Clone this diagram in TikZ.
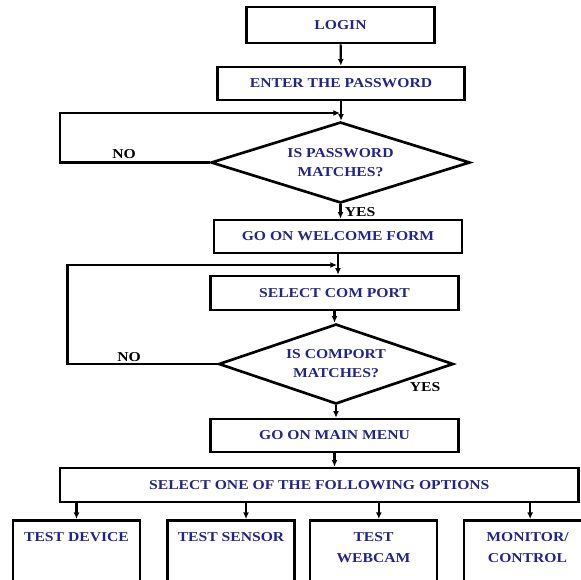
\documentclass[tikz,border=0pt]{standalone}
\usepackage{fontspec}
\setmainfont{Liberation Serif}
\newfontfamily\chartfont[FakeStretch=1.15]{Liberation Serif}
\usetikzlibrary{shapes.geometric,arrows.meta}
\definecolor{chartblue}{RGB}{35,35,140}

\begin{document}
\begin{tikzpicture}[x=0.75pt,y=-0.75pt,
	proc_node/.style={rectangle,draw,line width=2pt,inner sep=0pt,text=chartblue,
		font={\chartfont\bfseries\fontsize{10.2}{14}\selectfont}},
	dec_node/.style={diamond,draw,line width=2pt,inner sep=0pt,aspect=3.2,align=center,text=chartblue,
		font={\chartfont\bfseries\fontsize{10.2}{14.25}\selectfont}},
	opt_node/.style={rectangle,draw,line width=2pt,anchor=north,minimum width=95.25pt,
		inner xsep=0pt,inner ysep=9pt,text depth=70pt,align=center,text=chartblue,
		font={\chartfont\bfseries\fontsize{10.2}{15.75}\selectfont}},
	yn_node/.style={inner sep=0pt,font={\chartfont\bfseries\fontsize{10.2}{12}\selectfont}},
	arr/.style={line width=1.6pt,-{Latex[length=5pt,width=4.5pt]}}]

	\useasboundingbox (0,0) rectangle (581,579);
	\clip (0,0) rectangle (581,579);

	\node[proc_node,minimum width=141pt,minimum height=27pt] (login) at (340.5,25) {LOGIN};
	\node[proc_node,minimum width=185.6pt,minimum height=24.75pt] (enter) at (341,83.5) {ENTER THE PASSWORD};
	\node[dec_node,minimum width=194.25pt,minimum height=60.75pt] (pwd) at (340.5,162.5) {IS PASSWORD\\MATCHES?};
	\node[proc_node,minimum width=186pt,minimum height=24.75pt] (welcome) at (338,236.5) {GO ON WELCOME FORM};
	\node[proc_node,minimum width=186pt,minimum height=25.5pt] (comport) at (334.5,293) {SELECT COM PORT};
	\node[dec_node,minimum width=176pt,minimum height=60pt] (port) at (336,364) {IS COMPORT\\MATCHES?};
	\node[proc_node,minimum width=186pt,minimum height=24.75pt] (menu) at (334.5,435.5) {GO ON MAIN MENU};
	\node[proc_node,minimum width=389pt,minimum height=25.5pt] (options) at (319.3,485) {SELECT ONE OF THE FOLLOWING OPTIONS};

	\node[opt_node] (device) at (76.5,519) {TEST DEVICE};
	\node[opt_node] (sensor) at (231,519) {TEST SENSOR};
	\node[opt_node] (webcam) at (373.5,519) {TEST\\WEBCAM};
	\node[opt_node] (monitor) at (527.5,519) {MONITOR/\\CONTROL};

	\node[yn_node] (no1) at (124,154) {NO};
	\node[yn_node] (yes1) at (360,212) {YES};
	\node[yn_node] (no2) at (129,357) {NO};
	\node[yn_node] (yes2) at (425,387) {YES};

	\coordinate (l1) at (60,113);
	\coordinate (j1) at (340,113);
	\coordinate (l2) at (67.5,265);
	\coordinate (j2) at (337,265);

	\draw[arr] (login) -- (enter);
	\draw[arr] (enter.south) -- (enter.south |- pwd.north);
	\draw[arr] (pwd.south) -- (pwd.south |- welcome.north);
	\draw[arr] (welcome.south) -- (welcome.south |- comport.north);
	\draw[arr] (comport.south) -- (comport.south |- port.north);
	\draw[arr] (port.south) -- (port.south |- menu.north);
	\draw[arr] (menu.south) -- (menu.south |- options.north);

	\draw[arr] (pwd.west) -| (l1) -- (j1);
	\draw[arr] (port.west) -| (l2) -- (j2);

	\draw[arr] (device.north |- options.south) -- (device.north);
	\draw[arr] ([xshift=11.25pt]sensor.north |- options.south) -- ([xshift=11.25pt]sensor.north);
	\draw[arr] ([xshift=4pt]webcam.north |- options.south) -- ([xshift=4pt]webcam.north);
	\draw[arr] ([xshift=2pt]monitor.north |- options.south) -- ([xshift=2pt]monitor.north);
\end{tikzpicture}
\end{document}
